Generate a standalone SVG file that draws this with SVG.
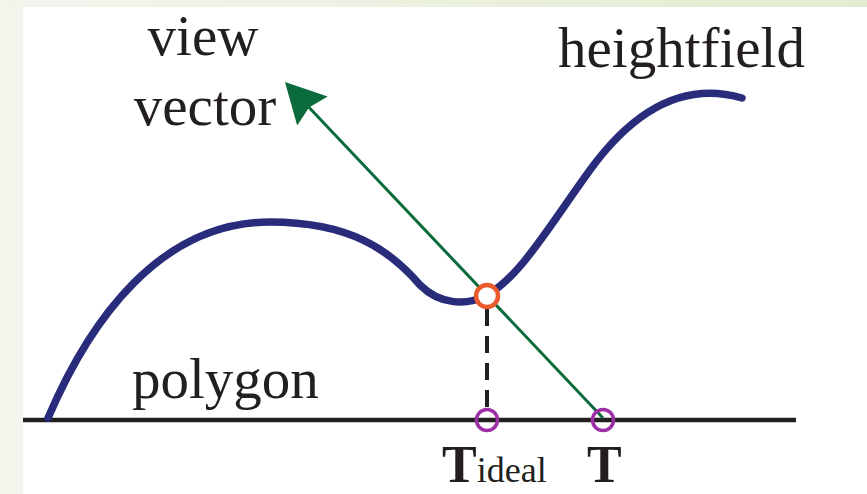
<svg xmlns="http://www.w3.org/2000/svg" width="867" height="494" viewBox="0 0 867 494">
<defs>
<linearGradient id="band" x1="0" y1="0" x2="1" y2="0">
<stop offset="0" stop-color="#f3f5ed"/>
<stop offset="1" stop-color="#e3ecd1"/>
</linearGradient>
<marker id="arrow" markerUnits="userSpaceOnUse" viewBox="0 -22 42 44" refX="20" refY="0" markerWidth="42" markerHeight="44" orient="auto">
<path d="M0,-21 L40,0 L0,21 L5,0 Z" fill="#0c6b3a"/>
</marker>
<style>
.lbl{font-family:"Liberation Serif","Times New Roman",serif;fill:#231f20;}
.big{font-size:57px;}
.tb{font-size:52px;font-weight:bold;}
.sub{font-size:36px;}
.pt{fill:none;stroke:#9c2ea6;stroke-width:3.5;}
</style>
</defs>
<rect x="0" y="0" width="867" height="494" fill="#f3f5ec"/>
<rect x="0" y="0" width="867" height="7" fill="url(#band)"/>
<rect x="23" y="7" width="844" height="487" fill="#ffffff"/>

<g id="polygon">
<line x1="23" y1="420" x2="796" y2="420" stroke="#231f20" stroke-width="4.5"/>
<text class="lbl big" x="132" y="398">polygon</text>
</g>

<g id="heightfield">
<path d="M48,418 C90,320 160,222 270,222 C350,222 390,250 420,285 C440,305 467,306 487,295 C520,277 550,225 590,170 C630,115 680,80 742,98" fill="none" stroke="#292b7b" stroke-width="7.5" stroke-linecap="round"/>
<text class="lbl big" x="558" y="67">heightfield</text>
</g>

<g id="connectors">
<line x1="603" y1="418" x2="298.7" y2="96.5" stroke="#0c6b3a" stroke-width="3" marker-end="url(#arrow)"/>
<line x1="487" y1="309" x2="487" y2="409" stroke="#231f20" stroke-width="4" stroke-dasharray="17 10"/>
</g>

<g id="view-vector">
<text class="lbl big" x="203" y="55" text-anchor="middle">view</text>
<text class="lbl big" x="205" y="125" text-anchor="middle">vector</text>
</g>

<g id="intersection">
<circle cx="487" cy="296" r="11" fill="#ffffff" stroke="#ea5a2c" stroke-width="4.5"/>
</g>

<g id="t-ideal">
<circle class="pt" cx="487" cy="420" r="10.5"/>
<text class="lbl" x="442" y="482"><tspan class="tb">T</tspan><tspan class="sub">ideal</tspan></text>
</g>

<g id="t">
<circle class="pt" cx="603" cy="420" r="10.5"/>
<text class="lbl tb" x="587" y="482">T</text>
</g>
</svg>
